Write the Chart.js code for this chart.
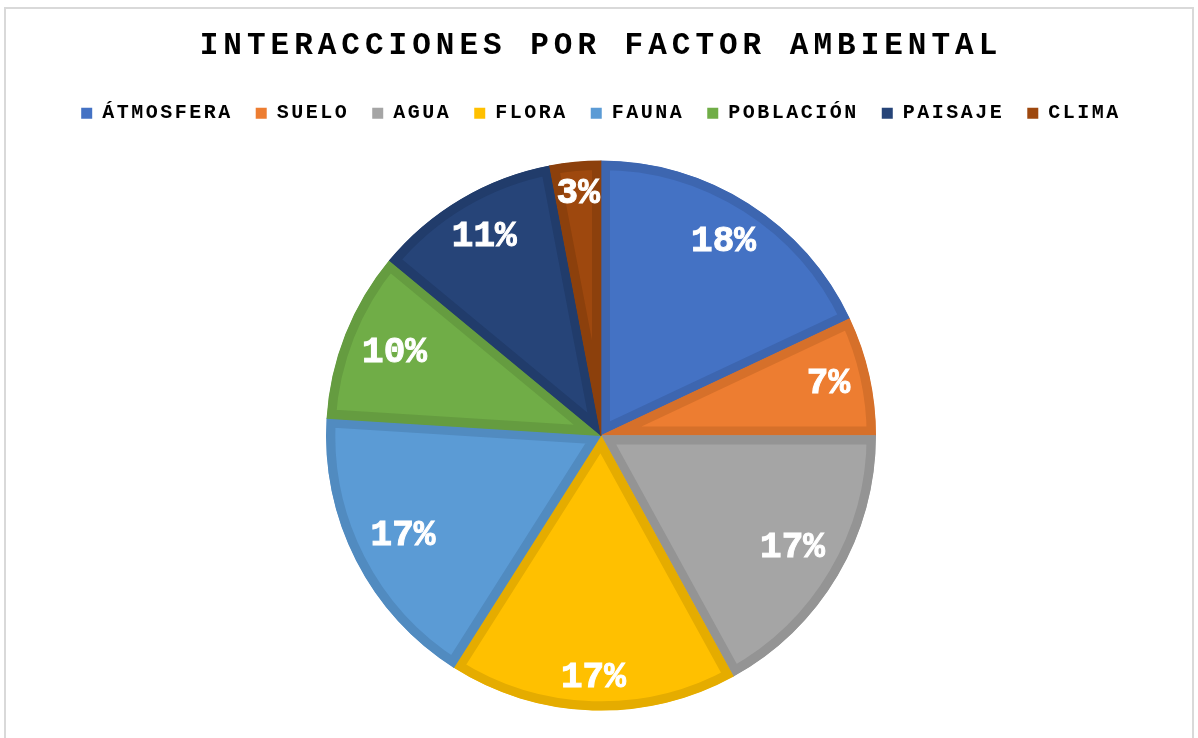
<!DOCTYPE html>
<html>
<head>
<meta charset="utf-8">
<script src="https://cdn.jsdelivr.net/npm/chart.js@4"></script>
<style>
  html, body { margin: 0; padding: 0; background: #fff; }
  canvas { display: block; }
</style>
</head>
<body>
<canvas id="factorChart" width="1198" height="738"></canvas>
<script>
const factors = ['ÁTMOSFERA', 'SUELO', 'AGUA', 'FLORA', 'FAUNA', 'POBLACIÓN', 'PAISAJE', 'CLIMA'];
const shares = [18, 7, 17, 17, 17, 10, 11, 3];
const fills = ['#4472c4', '#ed7d31', '#a5a5a5', '#ffc000', '#5b9bd5', '#70ad47', '#264478', '#9e480e'];
const edges = ['#3d66b0', '#d6702a', '#949494', '#e5ac00', '#518bc0', '#659c40', '#213c6b', '#8c400c'];

const mono = '"Liberation Mono", "Courier New", monospace';

// canvas letterSpacing only for a given block's fit/draw
const withSpacing = (block, method, px) => {
    if (!block || !block[method]) return;
    const orig = block[method].bind(block);
    block[method] = (...args) => {
        const ctx = block.ctx;
        const prev = ctx.letterSpacing;
        ctx.letterSpacing = px;
        try {
            return orig(...args);
        } finally {
            ctx.letterSpacing = prev;
        }
    };
};

const spacedText = {
    id: 'spacedText',
    afterInit(chart) {
        withSpacing(chart.titleBlock, 'draw', '5px');
        withSpacing(chart.legend, 'fit', '2.5px');
        withSpacing(chart.legend, 'draw', '2.5px');
    }
};

const frame = {
    id: 'frame',
    beforeDraw(chart) {
        const { ctx } = chart;
        ctx.save();
        ctx.strokeStyle = '#d9d9d9';
        ctx.lineWidth = 2;
        ctx.strokeRect(5, 8, chart.width - 10, chart.height + 10);
        ctx.restore();
    }
};

// percentage labels placed just inside the outer edge of each slice
const sliceLabels = {
    id: 'sliceLabels',
    afterDatasetsDraw(chart) {
        const { ctx } = chart;
        const meta = chart.getDatasetMeta(0);
        const values = chart.data.datasets[0].data;
        ctx.save();
        ctx.font = 'bold 36px ' + mono;
        ctx.fillStyle = '#ffffff';
        ctx.strokeStyle = '#ffffff';
        ctx.lineWidth = 1;
        ctx.textAlign = 'center';
        ctx.textBaseline = 'middle';
        meta.data.forEach((arc, i) => {
            const { x, y, startAngle, endAngle, outerRadius } = arc.getProps(['x', 'y', 'startAngle', 'endAngle', 'outerRadius'], true);
            const mid = (startAngle + endAngle) / 2;
            const text = values[i] + '%';
            const w = ctx.measureText(text).width;
            const h = 26;
            const reach = (w / 2) * Math.abs(Math.cos(mid)) + (h / 2) * Math.abs(Math.sin(mid));
            const d = outerRadius - 18 - reach;
            const lx = x + Math.cos(mid) * d;
            const ly = y + Math.sin(mid) * d - 1;
            ctx.fillText(text, lx, ly);
            ctx.strokeText(text, lx, ly);
        });
        ctx.restore();
    }
};

const pieLegendItems = Chart.overrides.pie.plugins.legend.labels.generateLabels;

new Chart(document.getElementById('factorChart'), {
    type: 'pie',
    data: {
        labels: factors,
        datasets: [{
            data: shares,
            backgroundColor: fills,
            borderColor: edges,
            borderWidth: 9,
            borderAlign: 'inner',
            radius: 275,
            clip: false
        }]
    },
    options: {
        responsive: false,
        animation: false,
        layout: { padding: { top: 0, left: 4, right: 0, bottom: -3 } },
        plugins: {
            title: {
                display: true,
                text: 'INTERACCIONES POR FACTOR AMBIENTAL',
                color: '#000',
                font: { family: mono, size: 31, weight: 'bold', lineHeight: 1.2 },
                padding: { top: 28, bottom: 15 }
            },
            legend: {
                position: 'top',
                labels: {
                    color: '#000',
                    font: { family: mono, size: 20, weight: 'bold' },
                    boxWidth: 11,
                    boxHeight: 11,
                    padding: 23,
                    generateLabels(chart) {
                        return pieLegendItems(chart).map(item => ({ ...item, lineWidth: 0 }));
                    }
                }
            },
            tooltip: { enabled: false }
        }
    },
    plugins: [spacedText, frame, sliceLabels]
});
</script>
</body>
</html>
